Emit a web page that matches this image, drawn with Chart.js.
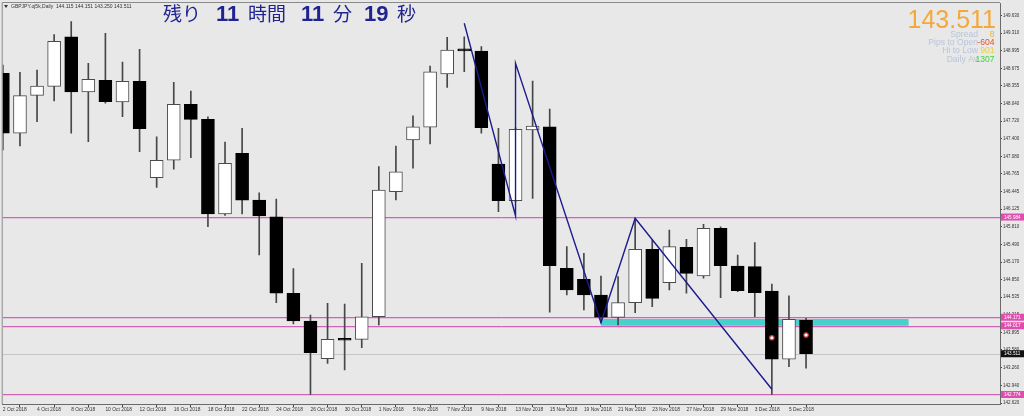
<!DOCTYPE html>
<html lang="ja">
<head>
<meta charset="UTF-8">
<title>GBPJPY Daily</title>
<script src="https://cdn.jsdelivr.net/npm/chart.js"></script>
<style>
  html, body { margin: 0; padding: 0; background: #E8E8E8; overflow: hidden; }
</style>
</head>
<body>
<canvas id="myChart" width="1024" height="416"></canvas>
<script>
// trading days shown on the chart
const dates = [
  '2 Oct 2018', '3 Oct 2018', '4 Oct 2018', '5 Oct 2018',
  '8 Oct 2018', '9 Oct 2018', '10 Oct 2018', '11 Oct 2018', '12 Oct 2018',
  '15 Oct 2018', '16 Oct 2018', '17 Oct 2018', '18 Oct 2018', '19 Oct 2018',
  '22 Oct 2018', '23 Oct 2018', '24 Oct 2018', '25 Oct 2018', '26 Oct 2018',
  '29 Oct 2018', '30 Oct 2018', '31 Oct 2018', '1 Nov 2018', '2 Nov 2018',
  '5 Nov 2018', '6 Nov 2018', '7 Nov 2018', '8 Nov 2018', '9 Nov 2018',
  '12 Nov 2018', '13 Nov 2018', '14 Nov 2018', '15 Nov 2018', '16 Nov 2018',
  '19 Nov 2018', '20 Nov 2018', '21 Nov 2018', '22 Nov 2018', '23 Nov 2018',
  '26 Nov 2018', '27 Nov 2018', '28 Nov 2018', '29 Nov 2018', '30 Nov 2018',
  '3 Dec 2018', '4 Dec 2018', '5 Dec 2018', '6 Dec 2018'
];

const open = [
  148.584, 147.499, 148.186, 148.349, 149.246, 148.246, 148.458, 148.065, 148.440, 146.696,
  147.011, 148.024, 147.752, 146.039, 147.137, 146.292, 145.990, 144.605, 144.103, 143.422,
  143.765, 143.772, 144.181, 146.443, 147.378, 147.608, 148.572, 149.000, 148.988, 146.944,
  146.280, 147.559, 147.618, 145.057, 144.858, 144.574, 144.170, 144.435, 145.401, 144.796,
  145.437, 144.918, 145.780, 145.098, 145.086, 144.646, 143.411, 144.115
];
const high = [
  148.735, 148.603, 148.644, 149.283, 149.518, 148.765, 149.308, 148.789, 149.019, 147.437,
  148.422, 148.264, 147.799, 147.342, 147.589, 146.424, 146.310, 145.050, 144.212, 144.424,
  144.411, 145.147, 146.895, 147.269, 147.817, 148.716, 149.236, 149.246, 149.066, 147.589,
  147.600, 148.445, 147.939, 145.448, 145.328, 144.918, 144.905, 145.961, 145.569, 145.750,
  145.581, 145.853, 145.809, 145.297, 145.520, 144.773, 144.561, 144.151
];
const low = [
  147.197, 147.269, 147.709, 148.083, 147.499, 147.347, 148.042, 147.799, 147.166, 146.522,
  146.848, 147.058, 145.809, 146.015, 146.039, 145.297, 144.435, 144.049, 142.774, 143.338,
  143.217, 143.620, 144.031, 146.292, 146.866, 147.305, 148.331, 148.613, 147.499, 146.081,
  146.260, 146.323, 144.261, 144.574, 144.302, 144.073, 144.031, 144.254, 144.362, 144.664,
  144.605, 144.876, 144.525, 144.634, 144.181, 142.774, 143.277, 143.250
];
const close = [
  147.499, 148.179, 148.355, 149.163, 148.246, 148.476, 148.071, 148.440, 147.582, 147.011,
  148.024, 147.752, 146.039, 146.956, 146.287, 146.003, 144.605, 144.103, 143.530, 143.772,
  143.755, 144.181, 146.473, 146.804, 147.618, 148.613, 149.006, 148.990, 147.600, 146.280,
  147.571, 147.631, 145.104, 144.664, 144.574, 144.171, 144.435, 145.401, 144.514, 145.448,
  144.966, 145.780, 145.104, 144.652, 144.615, 143.411, 144.134, 143.511
];

// zigzag indicator turning points
const zigIndex = [27, 30, 30, 35, 37, 45];
const zigPrice = [149.489, 146.003, 148.765, 144.073, 145.961, 142.868];

// signal markers on the last bars
const sigIndex = [45, 47];
const sigPrice = [143.80, 143.85];

// price axis ticks
const yTicks = [
  149.630, 149.310, 148.995, 148.675, 148.355, 148.040, 147.720, 147.400, 147.080, 146.765,
  146.445, 146.125, 145.810, 145.490, 145.170, 144.850, 144.535, 144.215, 143.895, 143.580,
  143.260, 142.940, 142.620
];

// horizontal levels and the support zone
const levels = [145.984, 144.171, 144.017, 142.774];
const bid = 143.511;
const zoneFrom = 35, zoneTo = 53;
const zoneLow = 144.017, zoneHigh = 144.171;

// header and info panel
const header = 'GBPJPY.oj5k,Daily  144.115 144.151 143.250 143.511';
const infoLabels = ['Spread', 'Pips to Open', 'Hi to Low', 'Daily Av'];
const infoValues = ['8', '-604', '901', '1307'];
const infoColors = ['#EBB431', '#E0532C', '#E6D23C', '#3CD43C'];
const timerParts = ['残り', '11', '時間', '11', '分', '19', '秒'];

const idx = close.map((c, i) => i);

const overlay = {
  id: 'overlay',
  beforeDatasetsDraw(chart) {
    const { ctx, chartArea: a, scales: { x, y } } = chart;
    ctx.save();
    ctx.beginPath();
    ctx.rect(a.left, a.top, a.right - a.left, a.bottom - a.top);
    ctx.clip();

    // support zone
    const zx0 = x.getPixelForValue(zoneFrom), zx1 = x.getPixelForValue(zoneTo);
    const zy0 = y.getPixelForValue(zoneHigh), zy1 = y.getPixelForValue(zoneLow);
    ctx.fillStyle = '#48D1CC';
    ctx.fillRect(zx0, zy0, zx1 - zx0, zy1 - zy0);

    // bid line
    ctx.lineWidth = 1;
    ctx.strokeStyle = '#C6C6C6';
    let py = Math.round(y.getPixelForValue(bid)) + 0.5;
    ctx.beginPath(); ctx.moveTo(a.left, py); ctx.lineTo(a.right, py); ctx.stroke();

    // magenta levels (dark line with a pale shadow underneath)
    levels.forEach(v => {
      const ly = Math.round(y.getPixelForValue(v)) + 0.5;
      ctx.strokeStyle = '#E6C3DE';
      ctx.beginPath(); ctx.moveTo(a.left, ly + 1); ctx.lineTo(a.right, ly + 1); ctx.stroke();
      ctx.strokeStyle = '#CF64B6';
      ctx.beginPath(); ctx.moveTo(a.left, ly); ctx.lineTo(a.right, ly); ctx.stroke();
    });
    ctx.restore();
  },
  afterDraw(chart) {
    const { ctx, chartArea: a, scales: { y } } = chart;
    ctx.save();

    // plot frame (top + left)
    ctx.strokeStyle = '#8A8A8A';
    ctx.lineWidth = 1;
    ctx.beginPath();
    ctx.moveTo(a.left - 0.5, a.bottom); ctx.lineTo(a.left - 0.5, a.top - 0.5); ctx.lineTo(a.right, a.top - 0.5);
    ctx.stroke();

    // price tags on the axis
    ctx.font = '4.6px "Liberation Sans"';
    ctx.textBaseline = 'middle';
    ctx.textAlign = 'left';
    const tag = (v, bg) => {
      const ty = y.getPixelForValue(v);
      ctx.fillStyle = bg;
      ctx.fillRect(a.right + 1, ty - 3.5, 24, 7);
      ctx.fillStyle = '#FFFFFF';
      ctx.fillText(v.toFixed(3), a.right + 4, ty + 0.3);
    };
    levels.forEach(v => tag(v, '#E04DAE'));
    tag(bid, '#111111');

    // header
    ctx.fillStyle = '#333';
    ctx.beginPath();
    ctx.moveTo(4, 5); ctx.lineTo(8, 5); ctx.lineTo(6, 8); ctx.closePath(); ctx.fill();
    ctx.font = '5px "Liberation Sans"';
    ctx.fillText(header, 11, 6.5);

    // countdown text
    ctx.fillStyle = '#202490';
    ctx.textBaseline = 'alphabetic';
    const tx = [163, 216, 248, 301, 333, 364, 397];
    timerParts.forEach((t, i) => {
      const isNum = /\d/.test(t);
      ctx.font = isNum ? 'bold 22px "Liberation Sans"' : '19px "Noto Sans CJK JP"';
      ctx.fillText(t, tx[i], 21);
    });

    // info panel
    ctx.textAlign = 'right';
    ctx.font = '25px "Liberation Sans"';
    ctx.fillStyle = '#F4A83A';
    ctx.fillText(close[close.length - 1].toFixed(3), 996, 28);
    ctx.font = '8.6px "Liberation Sans"';
    infoLabels.forEach((t, i) => {
      const by = 37 + i * 8.2;
      ctx.fillStyle = '#B9C4DA';
      ctx.fillText(t, 978, by);
      ctx.fillStyle = infoColors[i];
      ctx.fillText(infoValues[i], 994.5, by);
    });
    ctx.restore();
  }
};

const ctx = document.getElementById('myChart').getContext('2d');

new Chart(ctx, {
  type: 'bar',
  data: {
    datasets: [
      {
        type: 'line',
        label: 'ZigZag',
        data: zigIndex.map((v, i) => ({ x: v, y: zigPrice[i] })),
        borderColor: '#1C1C8E',
        borderWidth: 1.4,
        pointRadius: 0,
        pointHoverRadius: 0,
        tension: 0,
        order: 0
      },
      {
        type: 'line',
        label: 'Signals',
        data: sigIndex.map((v, i) => ({ x: v, y: sigPrice[i] })),
        showLine: false,
        pointRadius: 2.2,
        pointBorderWidth: 1.2,
        pointBackgroundColor: '#FFFFFF',
        pointBorderColor: '#D03A3A',
        order: 0
      },
      {
        label: 'Body',
        data: idx.map(i => ({ x: i, y: [open[i], close[i]] })),
        backgroundColor: idx.map(i => close[i] >= open[i] ? '#FFFFFF' : '#000000'),
        borderColor: idx.map(i => close[i] >= open[i] ? '#4A4A4A' : '#000000'),
        borderWidth: 1,
        borderSkipped: false,
        barThickness: 13,
        minBarLength: 2,
        grouped: false,
        clip: 0,
        order: 1
      },
      {
        label: 'Wick',
        data: idx.map(i => ({ x: i, y: [low[i], high[i]] })),
        backgroundColor: '#474747',
        borderWidth: 0,
        barThickness: 1,
        grouped: false,
        clip: 0,
        order: 2
      }
    ]
  },
  options: {
    responsive: false,
    animation: false,
    layout: { autoPadding: false, padding: { left: 2.7, top: 3, right: 0, bottom: 0 } },
    plugins: {
      legend: { display: false },
      tooltip: { enabled: false }
    },
    scales: {
      x: {
        type: 'linear',
        min: -0.01,
        max: 58.35,
        offset: false,
        afterBuildTicks: s => { s.ticks = idx.filter(i => i % 2 === 0).map(v => ({ value: v })); },
        afterFit: s => { s.height = 12; s.paddingLeft = 0; s.paddingRight = 0; },
        ticks: {
          autoSkip: false,
          maxRotation: 0,
          minRotation: 0,
          align: 'start',
          padding: 0,
          color: '#333',
          font: { family: 'Liberation Sans', size: 4.9 },
          callback: v => dates[v]
        },
        grid: { drawOnChartArea: false, tickLength: 3, color: '#444' },
        border: { color: '#6A6A6A' }
      },
      y: {
        position: 'right',
        min: 142.602,
        max: 149.856,
        afterBuildTicks: s => { s.ticks = yTicks.map(v => ({ value: v })); },
        afterFit: s => { s.width = 24; s.paddingTop = 0; s.paddingBottom = 0; },
        ticks: {
          padding: 1,
          color: '#333',
          font: { family: 'Liberation Sans', size: 4.5 },
          callback: v => v.toFixed(3)
        },
        grid: { drawOnChartArea: false, tickLength: 2, color: '#444' },
        border: { color: '#6A6A6A' }
      }
    }
  },
  plugins: [overlay]
});
</script>
</body>
</html>
